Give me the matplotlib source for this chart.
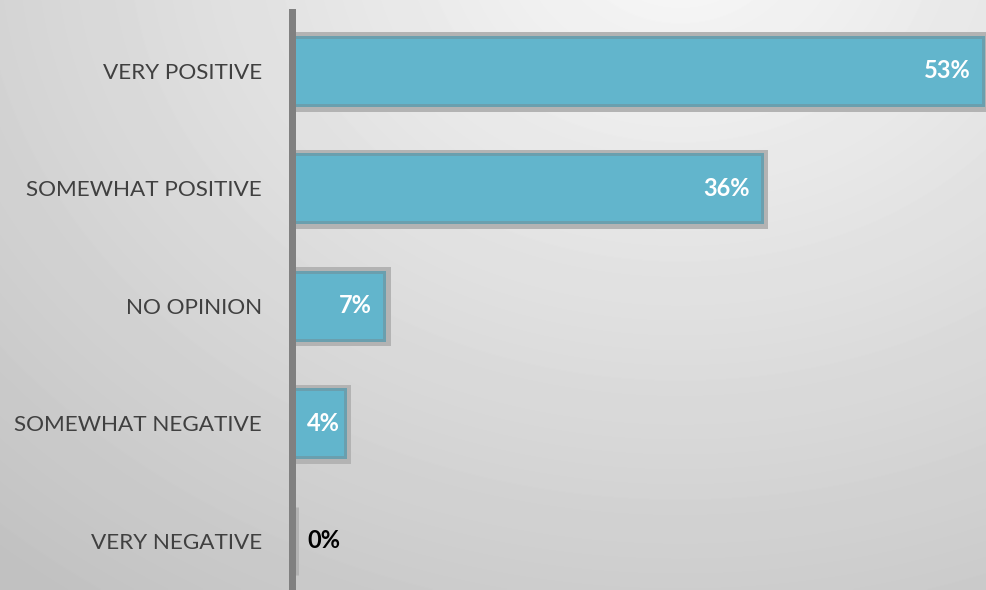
import matplotlib
matplotlib.use("Agg")
import matplotlib.pyplot as plt
import matplotlib.patheffects as pe
import numpy as np

# survey answers, top to bottom
categories = ["VERY POSITIVE", "SOMEWHAT POSITIVE", "NO OPINION",
              "SOMEWHAT NEGATIVE", "VERY NEGATIVE"]
shares = [53, 36, 7, 4, 0]

W, H = 987, 590
DPI = 100
PX = 72 / DPI  # points per pixel

plt.rcParams['font.family'] = ['Lato', 'DejaVu Sans']

fig = plt.figure(figsize=(W / DPI, H / DPI), dpi=DPI)

# soft grey radial backdrop, brightest near the top
bg = fig.add_axes([0, 0, 1, 1], zorder=-1)
yy, xx = np.mgrid[0:H, 0:W]
dist = np.hypot(xx - 680, (yy + 60) * 1.25) / 1000
shade = np.clip(0.975 - 0.21 * dist, 0.76, 0.975)
bg.imshow(shade, cmap='gray', vmin=0, vmax=1, aspect='auto',
          extent=(0, W, H, 0), interpolation='bilinear')
bg.set_axis_off()

left = 292.5 / W
ax = fig.add_axes([left, 0, 1 - left, (H - 12) / H])
ax.patch.set_alpha(0)

ypos = np.arange(len(categories))
shadow = [pe.Stroke(offset=(0.6, -0.5), linewidth=11 * PX,
                    foreground='#b3b3b3'),
          pe.Normal()]
ax.barh(ypos, shares, height=0.58, color='#62b5cc', edgecolor='#6a9fae',
        linewidth=3 * PX, path_effects=shadow, zorder=2)

for y, v in zip(ypos, shares):
    colour = 'white' if v > 0 else 'black'
    if v < 5:
        ax.annotate(f"{v}%", xy=(0, y), xytext=(14.5 * PX, 0),
                    textcoords='offset points', ha='left', va='center',
                    fontsize=17, fontweight='bold', color=colour, zorder=4)
    else:
        ax.annotate(f"{v}%", xy=(v, y), xytext=(-12 * PX, 0),
                    textcoords='offset points', ha='right', va='center',
                    fontsize=17, fontweight='bold', color=colour, zorder=4)

ax.set_xlim(0, 53.3)
ax.set_ylim(4.42, -0.5)
ax.set_xticks([])
ax.set_yticks(ypos, categories)
ax.tick_params(axis='y', length=0, pad=22, labelsize=16.2,
               labelcolor='#404040')
for side in ['top', 'right', 'bottom']:
    ax.spines[side].set_visible(False)
ax.spines['left'].set_linewidth(7 * PX)
ax.spines['left'].set_color('#808080')
ax.spines['left'].set_zorder(3)

fig.savefig("out.png", dpi=DPI)
